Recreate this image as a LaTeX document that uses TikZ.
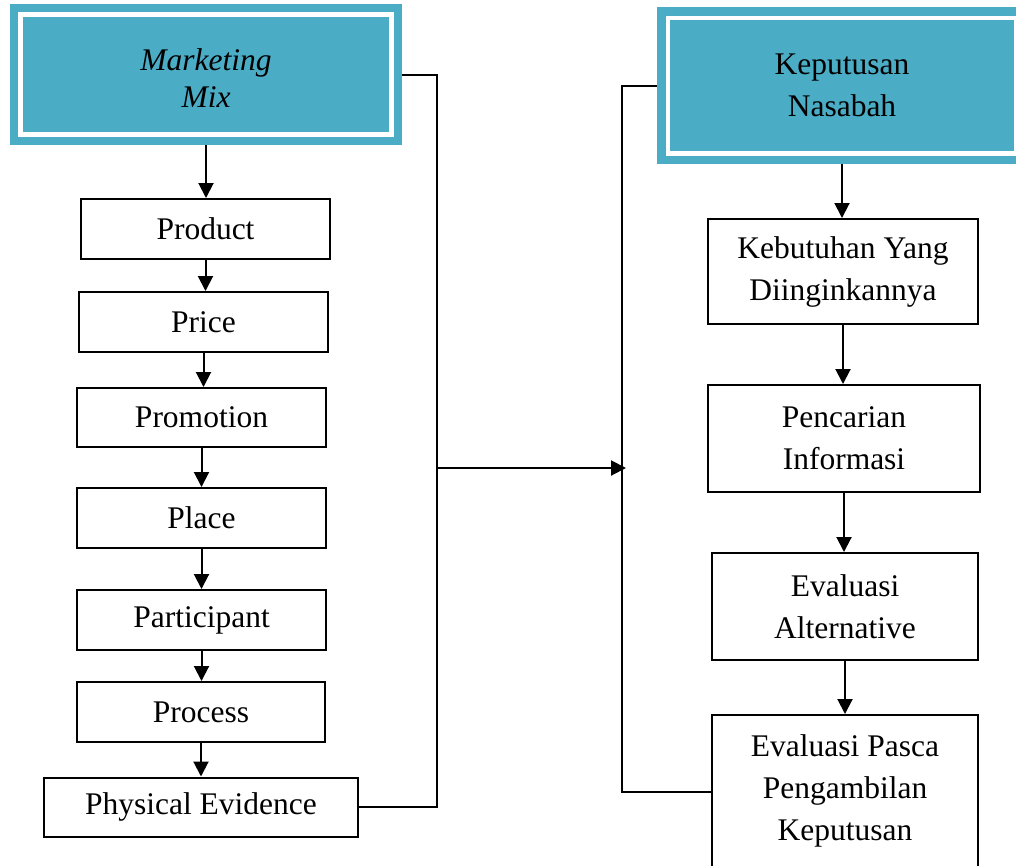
\documentclass[tikz,border=0pt]{standalone}
\usepackage{fontspec}
\setmainfont{Liberation Serif}
\usetikzlibrary{arrows.meta,calc}
\definecolor{tealhead}{HTML}{4BACC6}
\begin{document}
\begin{tikzpicture}[x=1pt,y=-1pt,
  font=\fontsize{31.5}{42}\selectfont,
  box/.style={draw, line width=2pt, inner sep=0pt, align=center},
  head/.style={fill=tealhead, inner sep=0pt},
  whiteframe/.style={draw=white, line width=4.5pt},
  arr/.style={line width=2pt, -{Triangle[length=15pt,width=15pt]}},
  conn/.style={line width=2pt}]
\useasboundingbox (0,0) rectangle (1016,865);
\clip (0,0) rectangle (1016,865);

% headers
\node[head, minimum width=392pt, minimum height=141pt,
      font=\fontsize{31.5}{37}\selectfont\itshape] (mm) at (206,74.5)
  {\raisebox{-7pt}[\height][\depth]{\begin{tabular}{@{}c@{}}Marketing\\Mix\end{tabular}}};
\draw[whiteframe] ($(mm.north west)+(10.5,10.5)$) rectangle ($(mm.south east)+(-10.5,-10.5)$);
\node[head, minimum width=370pt, minimum height=157pt, align=center] (kep) at (842,85.6) {Keputusan\\Nasabah};
\draw[whiteframe] ($(kep.north west)+(11.3,11)$) rectangle ($(kep.south east)+(-11.3,-11)$);

% left column
\node[box, minimum width=249pt, minimum height=60pt] (prod) at (205.5,229) {Product};
\node[box, minimum width=249pt, minimum height=60pt] (price) at (203.5,322) {Price};
\node[box, minimum width=249pt, minimum height=59pt] (promo) at (201.5,417.5) {Promotion};
\node[box, minimum width=249pt, minimum height=60pt] (place) at (201.5,518) {Place};
\node[box, minimum width=249pt, minimum height=60pt] (part) at (201.5,620) {Participant};
\node[box, minimum width=248pt, minimum height=60pt] (proc) at (201,712) {Process};
\node[box, minimum width=314pt, minimum height=59pt] (pe) at (201,807) {Physical Evidence};

% right column
\node[box, minimum width=270pt, minimum height=105pt] (keb) at (843,271.5) {Kebutuhan Yang\\Diinginkannya};
\node[box, minimum width=272pt, minimum height=107pt] (pen) at (844,438.5) {Pencarian\\Informasi};
\node[box, minimum width=266pt, minimum height=107pt] (alt) at (845,606.5) {Evaluasi\\Alternative};
\node[draw, line width=2pt, inner sep=0pt, minimum width=266pt, minimum height=154pt] (pasca) at (845,792)
  {\raisebox{2pt}[\height][\depth]{\begin{tabular}{@{}c@{}}Evaluasi Pasca\\Pengambilan\\Keputusan\end{tabular}}};

% vertical arrows
\foreach \a/\b in {mm/prod, prod/price, price/promo, promo/place, place/part, part/proc, proc/pe,
                   kep/keb, keb/pen, pen/alt, alt/pasca}
  \draw[arr] (\a.south) -- (\a.south |- \b.north);

% connectors
\coordinate (j1) at (437,468);
\coordinate (j2) at (626,468);
\coordinate (vl) at (622,0);
\draw[conn] (mm.east) -| (j1) |- (pe.east);
\draw[arr] (j1) -- (j2);
\draw[conn] (kep.west) -| (vl |- pasca.west) -- (pasca.west);
\end{tikzpicture}
\end{document}
